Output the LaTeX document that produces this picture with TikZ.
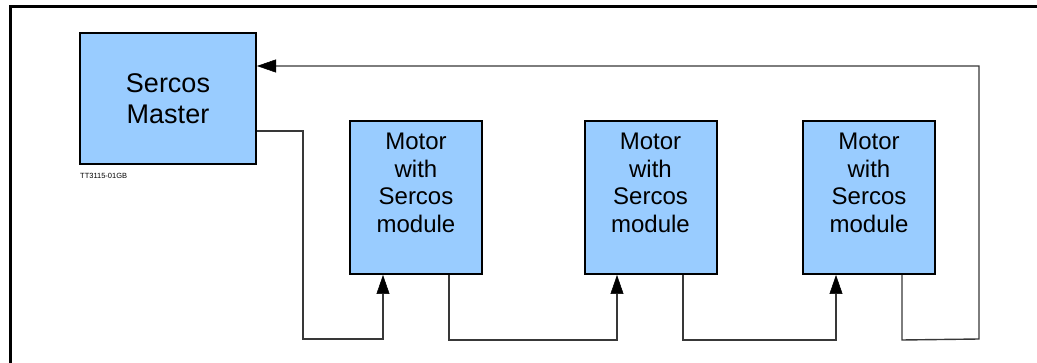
\documentclass[tikz,border=0pt]{standalone}
\usepackage{fontspec}
\setmainfont{Liberation Sans}
\usetikzlibrary{arrows.meta}
\definecolor{boxblue}{HTML}{99CCFF}
\definecolor{linegray}{HTML}{383838}
\tikzset{
  unitbox/.style={draw=black, line width=2pt, fill=boxblue, inner sep=0pt},
  motorbox/.style={unitbox, minimum width=132pt, minimum height=153pt},
  motortext/.style={anchor=north, inner sep=0pt, align=center, font=\fontsize{24}{27.5}\selectfont},
  conn/.style={draw=linegray, line width=1.4pt},
  arr/.style={conn, -{Triangle[length=19pt, width=13pt, color=black, line width=0.5pt]}},
  frameline/.style={line width=3pt, draw=black}
}
\begin{document}
\begin{tikzpicture}[x=1pt, y=-1pt]
\useasboundingbox (0,0) rectangle (1037,363);
% frame
\draw[frameline] (10.5,363) -- (10.5,6.5) -- (1037,6.5);
% master
\node[unitbox, minimum width=176pt, minimum height=131pt, align=center,
      font=\fontsize{27}{31}\selectfont] (master) at (168,98.5) {Sercos\\Master};
\node[anchor=base west, inner sep=0pt, font=\fontsize{7.5}{9}\selectfont] (code) at (80,179) {TT3115-01GB};
% motors
\node[motorbox] (m1) at (416,197.5) {};
\node[motorbox] (m2) at (650.5,197.5) {};
\node[motorbox] (m3) at (869,197.5) {};
\node[motortext] (t1) at ([yshift=-13pt]m1.north) {Motor\\with\\Sercos\\module};
\node[motortext] (t2) at ([yshift=-13pt]m2.north) {Motor\\with\\Sercos\\module};
\node[motortext] (t3) at ([yshift=-13pt]m3.north) {Motor\\with\\Sercos\\module};
% junction coordinates
\coordinate (j0) at (303,339);
\coordinate (j3) at (979,339);
% connectors
\draw[arr] ([yshift=-32.5pt]master.east) -| (j0) -| ([xshift=-33pt]m1.south);
\draw[arr] ([xshift=33pt]m1.south) -- ++(0,65) -| ([xshift=-33.5pt]m2.south);
\draw[arr] ([xshift=32.5pt]m2.south) -- ++(0,65) -| ([xshift=-33pt]m3.south);
\draw[arr] ([xshift=33pt]m3.south) -- ++(0,65) -- (j3) |- ([yshift=32.5pt]master.east);
\end{tikzpicture}
\end{document}
